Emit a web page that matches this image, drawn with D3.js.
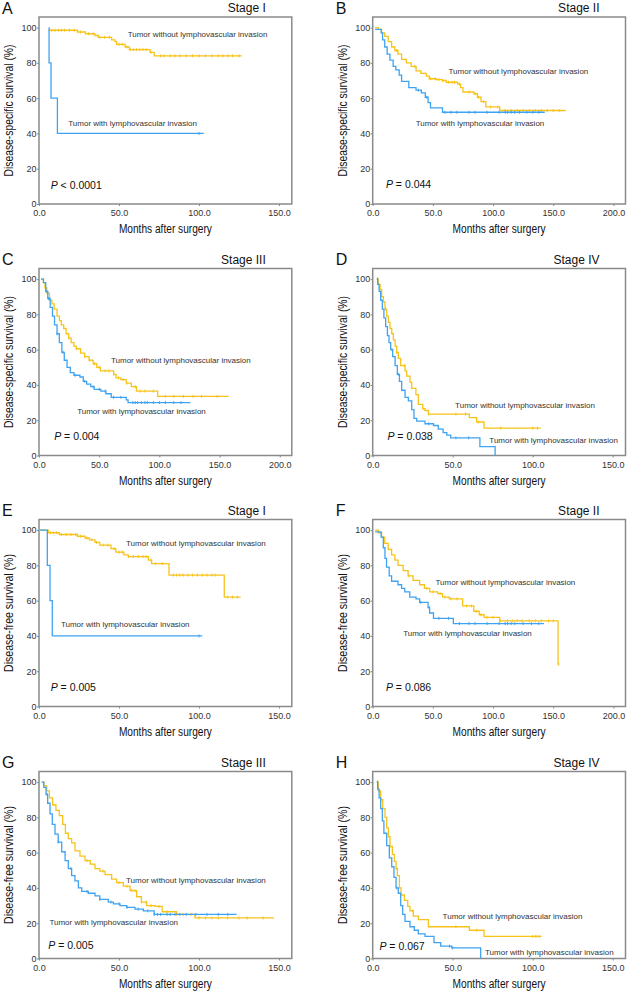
<!DOCTYPE html>
<html>
<head>
<meta charset="utf-8">
<script src="https://cdn.jsdelivr.net/npm/d3@7"></script>
<style>
  body { margin: 0; background: #fff; }
  svg { display: block; }
  .tick text { font-family: "Liberation Sans", Arial, sans-serif; font-size: 9px; fill: #333; }
  .tick line { stroke: #888; }
</style>
</head>
<body>
<svg id="chart" width="627" height="992"></svg>
<script>
const svg = d3.select('#chart')
const colWith = '#3fa3f2'
const colWithout = '#f7c31a'
const frameColor = '#8a8a8a'
const textColor = '#333'

// panel-level info
const panelLetters = ['A', 'B', 'C', 'D', 'E', 'F', 'G', 'H']
const stageLabels = ['Stage I', 'Stage II', 'Stage III', 'Stage IV', 'Stage I', 'Stage II', 'Stage III', 'Stage IV']
const yTitles = ['Disease-specific survival (%)', 'Disease-specific survival (%)', 'Disease-specific survival (%)', 'Disease-specific survival (%)',
  'Disease-free survival (%)', 'Disease-free survival (%)', 'Disease-free survival (%)', 'Disease-free survival (%)']
const pSigns = ['<', '=', '=', '=', '=', '=', '=', '=']
const pValues = ['0.0001', '0.044', '0.004', '0.038', '0.005', '0.086', '0.005', '0.067']
const xMaxTicks = [150, 200, 200, 150, 150, 200, 150, 150]
const yTicks = [0, 20, 40, 60, 80, 100]

// step curves: [months, survival %] = survival from that time on
const aWithout = [[6, 98.5], [24, 97.5], [29, 96.5], [35, 95.5], [37, 94.5], [45.4, 93], [47.5, 92], [48.5, 90.5], [53.8, 89], [56.5, 87.5], [69.4, 86], [72, 84], [126.7, 84]]
const aWith = [[6.2, 100], [6.3, 80], [7.5, 60], [11.5, 40], [103, 40]]
const bWithout = [[2, 100], [4.7, 99], [7.4, 97], [10, 95], [12.9, 92], [15.7, 89], [18.4, 87], [21, 85], [24, 82], [28, 80], [32, 78], [36, 75.5], [40, 74], [44.5, 72.5], [47, 71], [52.7, 70.5], [58, 70], [61, 69], [70.6, 68], [73, 66], [75, 63.5], [84, 62.5], [87, 60.5], [90, 58], [94, 55], [105.5, 53], [160.4, 53]]
const bWith = [[2, 99], [7, 97], [8.2, 93], [10, 89], [12, 85], [14.3, 81.5], [17, 78], [19.2, 76], [22, 73], [24, 69.5], [30, 66], [36, 64.5], [40.4, 63], [43.7, 60.5], [46, 57.5], [48, 54.5], [58, 52], [143, 52]]
const cWithout = [[1.7, 100], [3.7, 98], [5, 95], [6.5, 92], [8.7, 88], [10.7, 86], [12.6, 83], [15, 79], [17, 76.5], [18.5, 74], [20.5, 72], [22.5, 69], [24.7, 66.5], [26.7, 64], [29, 62], [31, 60.5], [34.5, 58], [38, 56], [41.6, 54], [45, 52], [48, 50], [51, 48], [62, 46], [64, 44], [68, 43], [72.5, 41], [76.7, 39], [81, 36.5], [98.6, 33.5], [157.6, 33.5]]
const cWith = [[1.7, 100], [3.7, 98], [5.6, 93], [7.3, 89], [9.3, 84], [11.2, 79], [12.9, 74], [15, 69], [16.9, 64], [19, 58.5], [21, 54], [23.3, 50], [26, 47], [29, 45.5], [34, 44.5], [36.8, 42], [39.6, 40.5], [43, 39], [45.8, 37.5], [51.4, 36.5], [55.6, 35], [60, 33], [72.5, 31.5], [74, 30], [125.8, 30]]
const dWithout = [[2.5, 100], [3.5, 97], [4.6, 94], [5.6, 90], [6.7, 87], [7.7, 83], [8.75, 79], [9.8, 75.5], [10.8, 72], [11.9, 69], [12.9, 65.5], [14, 62], [15, 58.5], [16, 55], [17.5, 51], [20.2, 48], [21.25, 45], [23.3, 41.5], [24.4, 38], [27, 34.5], [28.5, 29], [31.25, 26.5], [32.7, 25.5], [34.8, 23.5], [60.4, 21.5], [65, 19], [69.6, 15.5], [105, 15.5]]
const dWith = [[2.5, 100], [3.1, 97], [4, 93], [5, 88], [6, 83], [7, 78], [8.1, 73], [9.2, 68], [10.2, 64], [11.25, 60], [12.5, 56], [14, 51], [15.4, 46], [16.7, 42], [18.1, 37], [20.2, 33], [22.3, 31], [24.4, 26], [25.8, 21], [27.5, 19.5], [32.7, 18], [38, 17], [41, 15], [44, 13], [46.3, 11.5], [48.75, 10], [67, 5], [76.5, 0]]
const eWithout = [[0.6, 100], [5.8, 98.5], [12.7, 97.5], [24, 96.5], [28.75, 95.5], [31.5, 94.5], [35, 93], [38, 91.5], [45, 89.5], [48, 87.5], [53, 86], [55.8, 85], [68.3, 83], [70.4, 81], [81.25, 74.5], [115.8, 62], [126, 62]]
const eWith = [[0.6, 100], [5.2, 80], [6.9, 60], [8.3, 40], [102, 40]]
const fWithout = [[2, 100], [4.7, 98.5], [7.4, 96], [10, 92.5], [12.9, 89], [15.7, 86], [18.4, 83], [21, 80], [25.3, 77], [29.4, 74], [33.5, 71.5], [39, 69], [43, 67], [47.3, 65], [54, 64], [58, 62], [63.7, 61], [74.7, 57], [84, 54], [88.5, 52], [92.6, 50.5], [105.5, 48.5], [154, 24], [154.6, 24]]
const fWith = [[2, 99], [7, 96], [8.8, 90], [10.2, 84], [11.5, 79], [13.7, 74], [15.7, 71], [21, 69], [24, 67], [26.6, 65], [30.8, 62], [36, 61], [39, 59], [46, 56], [47.3, 53], [50.5, 50], [67, 47], [142.3, 47]]
const gWithout = [[1.7, 100], [3, 98], [4.8, 95], [6.5, 91], [8.5, 87], [10.6, 84], [12.7, 81], [14.8, 76], [16.5, 71], [18.3, 68], [20.4, 65.5], [22.5, 61], [25.6, 58], [28.75, 55.5], [32, 53.5], [35, 51], [38, 49.5], [41.25, 47.5], [45.4, 45], [48.5, 43], [52.7, 41], [56.9, 38.5], [61, 35], [64, 32], [67.3, 30], [72.5, 29.5], [77, 26.5], [86, 25], [97.5, 23], [146.9, 23]]
const gWith = [[1.7, 100], [3, 97], [4.4, 93], [5.4, 88], [6.9, 82], [8.3, 76], [10, 70.5], [12, 66], [14.2, 60.5], [16.3, 55.5], [18.3, 51], [20.4, 47], [22.5, 44], [24.6, 40], [26.7, 38], [30.8, 37], [35, 35.5], [38, 33.5], [43.3, 32], [46.5, 31], [50.6, 30], [54.8, 29], [60, 28], [65.2, 27], [72, 25], [123.5, 25]]
const hWithout = [[2.5, 100], [3.5, 95], [5, 90], [6.25, 85], [7.7, 80], [8.75, 74], [9.8, 69], [10.8, 63.5], [12.3, 59], [13.5, 55], [14.6, 51], [15.4, 47], [16.7, 40], [17.7, 36], [19.8, 33], [21.9, 29.5], [23.3, 27], [25.4, 24], [28.5, 22], [34.8, 18], [60.4, 16], [69.6, 12.5], [105.6, 12.5]]
const hWith = [[2.5, 100], [3.1, 96], [4, 91], [5, 85], [6, 78], [7, 71], [8.75, 64], [10.4, 57], [11.9, 52], [13.3, 46], [14.6, 40], [16, 37], [17.5, 30], [18.75, 25], [20.2, 21], [23.3, 18], [26, 16], [28.5, 14], [32.7, 12.5], [38.3, 9], [42.5, 7], [49.4, 6], [67.5, 0]]

// censored times (months)
const aWithoutCens = [8, 10, 12, 14, 16, 19, 22, 26, 31, 34, 38, 41, 44, 50, 52, 55, 57, 59, 61, 63, 65, 67, 70, 76, 78, 82, 85, 88, 92, 96, 100, 104, 108, 112, 115, 118, 121, 125]
const aWithCens = [100]
const bWithoutCens = [20, 35, 48, 52, 55, 58, 63, 66, 68, 72, 80, 85, 88, 92, 98, 104, 110, 115, 120, 125, 130, 135, 140, 145, 150, 155]
const bWithCens = [38, 45, 60, 65, 70, 80, 85, 95, 105, 110, 112, 115, 118, 122, 128, 133, 138]
const cWithoutCens = [25, 31, 38, 42, 46, 50, 55, 58, 62, 66, 70, 73, 80, 84, 88, 95, 105, 112, 120, 128, 135, 148]
const cWithCens = [6, 8, 15, 20, 30, 38, 45, 50, 55, 62, 68, 78, 80, 82, 85, 88, 90, 95, 100, 105, 112, 118]
const dWithoutCens = [3, 8, 15, 20, 35, 52, 58, 66, 80, 100, 103]
const dWithCens = [3, 12, 16, 35, 52, 60]
const eWithoutCens = [7, 9, 11, 14, 17, 20, 23, 26, 30, 33, 36, 40, 43, 47, 50, 52, 56, 59, 62, 65, 67, 70, 73, 77, 84, 86, 88, 90, 93, 96, 99, 102, 105, 108, 110, 118, 121, 124]
const eWithCens = [100]
const fWithoutCens = [30, 45, 50, 56, 60, 65, 70, 78, 82, 86, 90, 95, 100, 106, 112, 116, 120, 124, 130, 135, 140, 146, 150, 154.6]
const fWithCens = [40, 47, 55, 63, 72, 80, 85, 95, 105, 110, 112, 115, 118, 125, 132, 138]
const gWithoutCens = [30, 40, 50, 55, 58, 60, 64, 67, 70, 75, 80, 86, 90, 95, 100, 104, 108, 112, 118, 125, 130, 140]
const gWithCens = [5, 12, 20, 30, 38, 45, 50, 55, 62, 68, 72, 74, 76, 80, 82, 85, 88, 92, 98, 105, 112, 118]
const hWithoutCens = [5, 15, 25, 52, 65, 100, 102, 104]
const hWithCens = [3, 15, 48, 50]

const withoutCurves = [aWithout, bWithout, cWithout, dWithout, eWithout, fWithout, gWithout, hWithout]
const withCurves = [aWith, bWith, cWith, dWith, eWith, fWith, gWith, hWith]
const withoutCens = [aWithoutCens, bWithoutCens, cWithoutCens, dWithoutCens, eWithoutCens, fWithoutCens, gWithoutCens, hWithoutCens]
const withCens = [aWithCens, bWithCens, cWithCens, dWithCens, eWithCens, fWithCens, gWithCens, hWithCens]

// annotation anchors in data units [months, %]
const withoutLabelPos = [[55.4, 96], [63, 75], [59.8, 54], [51.5, 28.3], [54.4, 92.8], [52.2, 70.6], [54.4, 44.2], [43.7, 23.7]]
const withLabelPos = [[18.3, 46], [35.7, 45.7], [31.7, 25.2], [72.9, 8.9], [13.7, 46.4], [25.3, 41.3], [6.5, 20.4], [70.2, 3.8]]
const pLabelPos = [[7.3, 10.8], [11, 11.4], [12.6, 10.8], [9.2, 11], [7.3, 10.6], [11, 11], [5.8, 7.6], [4.2, 7]]

// layout
const colLeft = [39, 372.7]
const plotW = 252.8
const rowTop = [17, 268.5, 519.5, 771.5]
const plotH = 187
const yMax = 106

const sansFont = '"Liberation Sans", Arial, sans-serif'

const survAt = (curve, t) => {
  let s = curve[0][1]
  curve.forEach(p => { if (p[0] <= t) s = p[1] })
  return s
}

panelLetters.forEach((letter, i) => {
  const x0 = colLeft[i % 2]
  const y0 = rowTop[Math.floor(i / 2)]
  const tickMax = xMaxTicks[i]
  const xScale = d3.scaleLinear()
    .domain([0, tickMax === 150 ? plotW / 1.6 : plotW / 1.2036])
    .range([0, plotW])
  const yScale = d3.scaleLinear().domain([0, yMax]).range([plotH, 0])

  const g = svg.append('g').attr('transform', `translate(${x0}, ${y0})`)

  // axes
  const xAxis = d3.axisBottom(xScale)
    .tickValues(d3.range(0, tickMax + 1, 50))
    .tickFormat(d3.format('.1f'))
    .tickSize(2)
    .tickPadding(4)
  const yAxis = d3.axisLeft(yScale)
    .tickValues(yTicks)
    .tickFormat(d3.format('d'))
    .tickSize(2)
    .tickPadding(0.5)
  g.append('g').attr('transform', `translate(0, ${plotH})`).call(xAxis)
  g.append('g').call(yAxis)
  g.selectAll('path.domain').remove()

  // frame
  g.append('rect')
    .attr('x', 0).attr('y', 0)
    .attr('width', plotW).attr('height', plotH)
    .attr('fill', 'none')
    .attr('stroke', frameColor)
    .attr('stroke-width', 1.5)

  const line = d3.line()
    .x(d => xScale(d[0]))
    .y(d => yScale(d[1]))
    .curve(d3.curveStepAfter)

  const drawCurve = (curve, cens, color) => {
    g.append('path')
      .attr('d', line(curve))
      .attr('fill', 'none')
      .attr('stroke', color)
      .attr('stroke-width', 1.3)
    g.selectAll(null)
      .data(cens)
      .enter()
      .append('line')
        .attr('x1', d => xScale(d))
        .attr('x2', d => xScale(d))
        .attr('y1', d => yScale(survAt(curve, d)) - 1.5)
        .attr('y2', d => yScale(survAt(curve, d)) + 1.5)
        .attr('stroke', color)
        .attr('stroke-width', 1)
  }
  drawCurve(withoutCurves[i], withoutCens[i], colWithout)
  drawCurve(withCurves[i], withCens[i], colWith)

  // annotations
  const annot = (pos, txt) => g.append('text')
    .attr('x', xScale(pos[0]))
    .attr('y', yScale(pos[1]))
    .attr('dy', '0.35em')
    .attr('font-family', sansFont)
    .attr('font-size', 8)
    .attr('fill', textColor)
    .text(txt)
  annot(withoutLabelPos[i], 'Tumor without lymphovascular invasion')
  annot(withLabelPos[i], 'Tumor with lymphovascular invasion')

  const pText = g.append('text')
    .attr('x', xScale(pLabelPos[i][0]))
    .attr('y', yScale(pLabelPos[i][1]))
    .attr('dy', '0.35em')
    .attr('font-family', sansFont)
    .attr('font-size', 10.5)
    .attr('fill', '#111')
  pText.append('tspan').attr('font-style', 'italic').text('P')
  pText.append('tspan').text(` ${pSigns[i]} ${pValues[i]}`)

  // titles
  g.append('text')
    .attr('x', -37)
    .attr('y', -9)
    .attr('dy', '0.35em')
    .attr('font-family', sansFont)
    .attr('font-size', 16)
    .attr('fill', '#111')
    .text(letter)

  g.append('text')
    .attr('x', plotW - 26)
    .attr('y', -9)
    .attr('dy', '0.35em')
    .attr('text-anchor', 'end')
    .attr('font-family', sansFont)
    .attr('font-size', 12)
    .attr('fill', '#111')
    .text(stageLabels[i])

  // narrow-looking axis titles: squeeze the normal sans to the reference width
  g.append('text')
    .attr('transform', `translate(-26, ${plotH / 2}) rotate(-90)`)
    .attr('text-anchor', 'middle')
    .attr('font-family', sansFont)
    .attr('font-size', 12.5)
    .attr('textLength', i < 4 ? 132 : 118)
    .attr('lengthAdjust', 'spacingAndGlyphs')
    .attr('fill', '#111')
    .text(yTitles[i])

  g.append('text')
    .attr('x', plotW / 2)
    .attr('y', plotH + 29)
    .attr('text-anchor', 'middle')
    .attr('font-family', sansFont)
    .attr('font-size', 12.5)
    .attr('textLength', 93)
    .attr('lengthAdjust', 'spacingAndGlyphs')
    .attr('fill', '#111')
    .text('Months after surgery')
})
</script>
</body>
</html>
